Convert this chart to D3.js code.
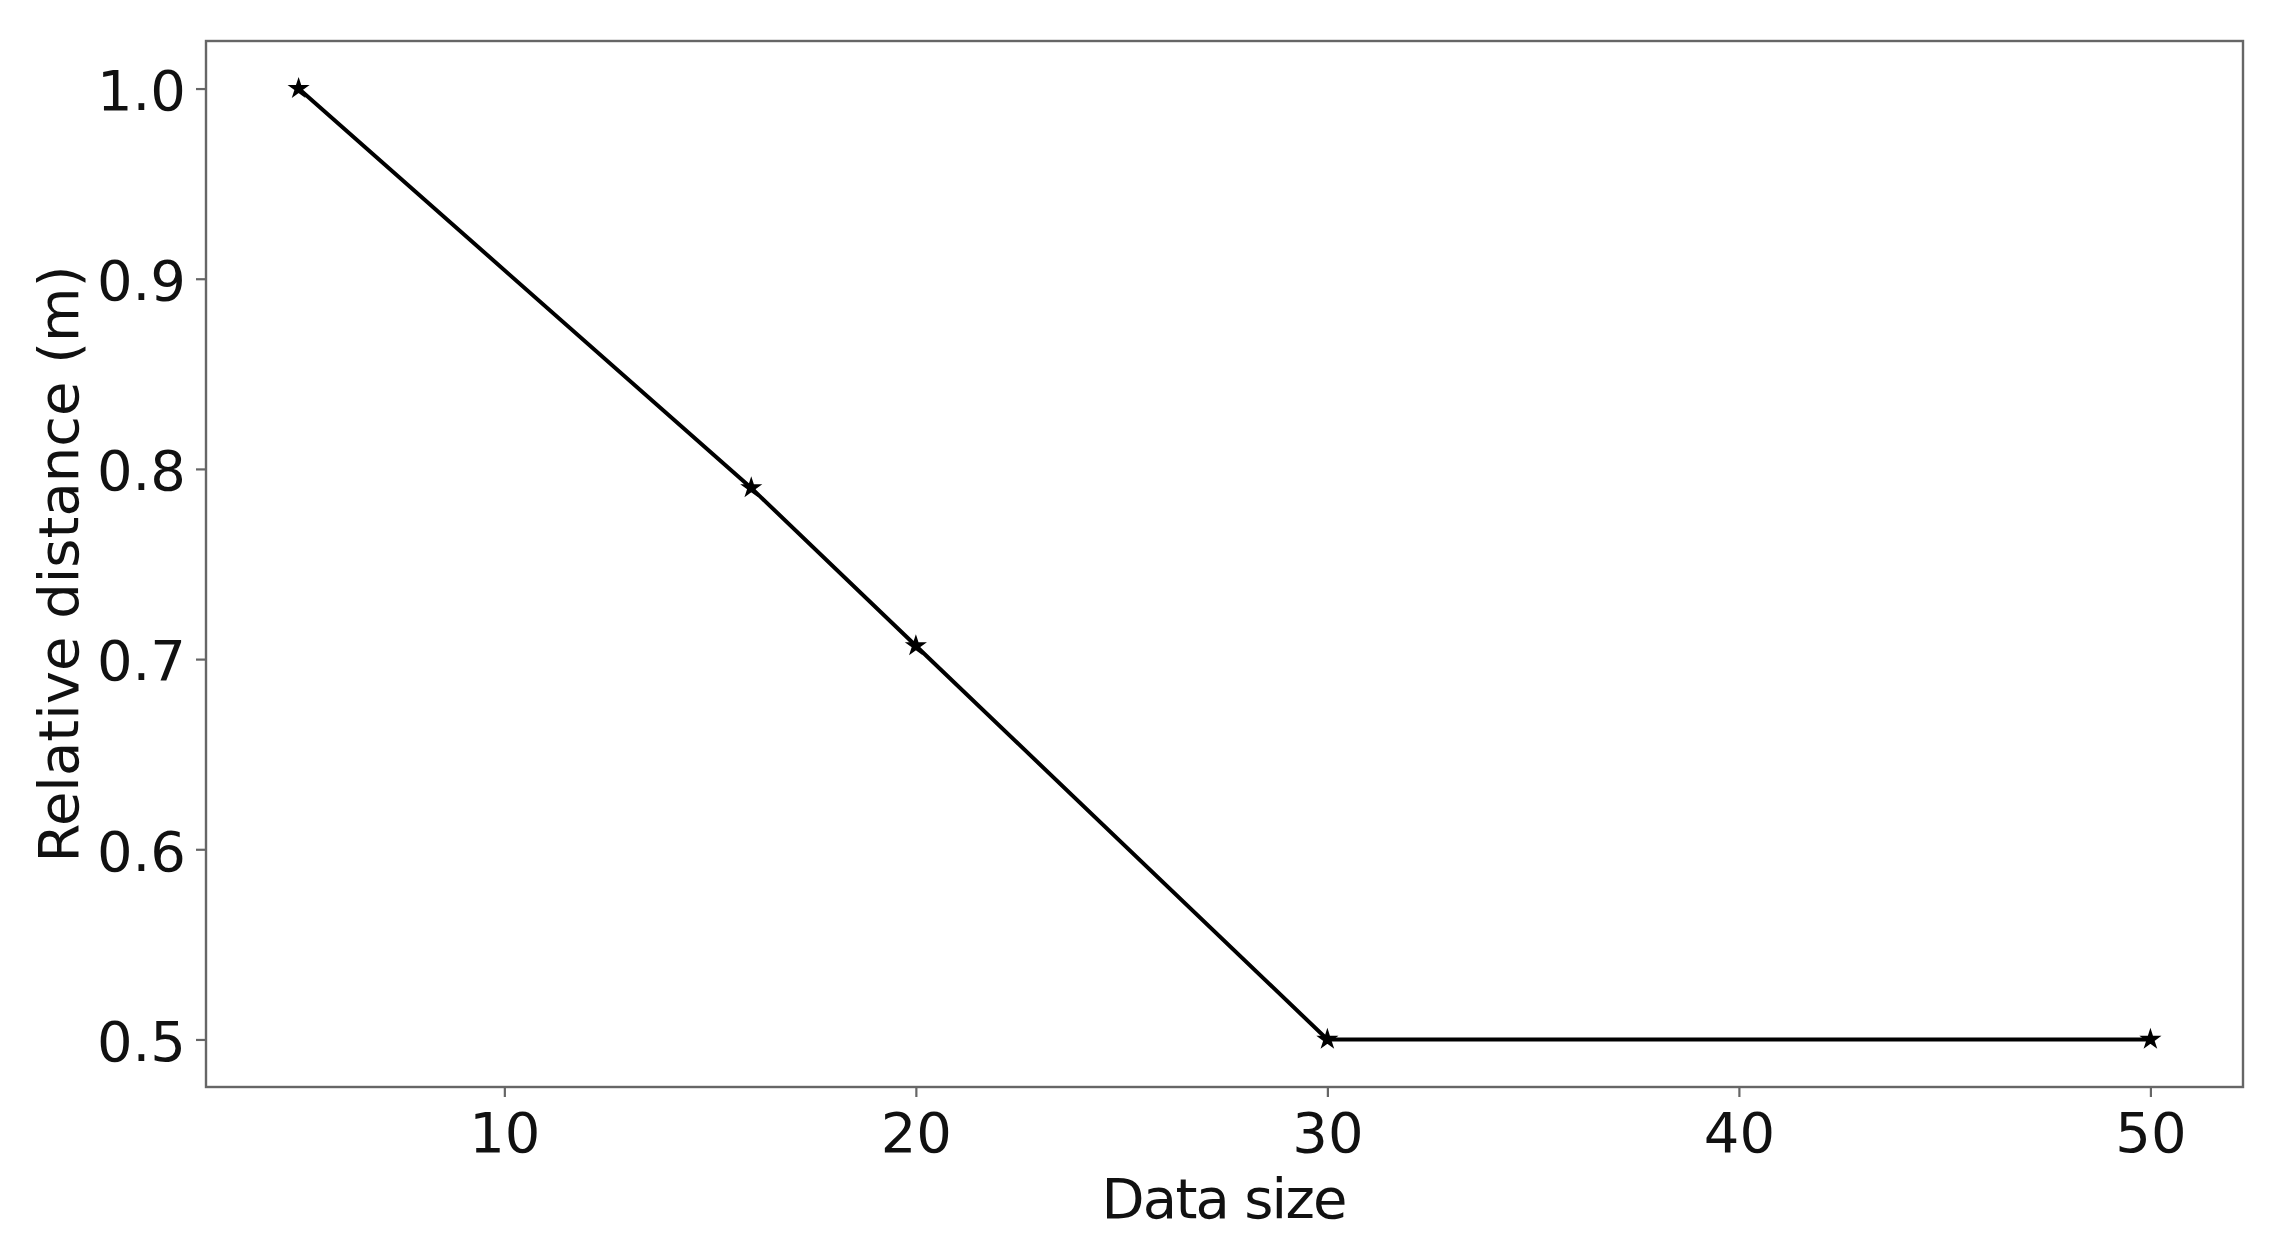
<!DOCTYPE html>
<html>
<head>
<meta charset="utf-8">
<script src="https://cdn.jsdelivr.net/npm/d3@7"></script>
<style>
  body { margin: 0; background: #fff; }
  text { font-family: "DejaVu Sans", sans-serif; fill: #111; }
</style>
</head>
<body>
<script>
// data
const dataSize = [5, 16, 20, 30, 50];
const relDistance = [1.0, 0.79, 0.707, 0.5, 0.5];
const xTicks = [10, 20, 30, 40, 50];
const yTicks = [0.5, 0.6, 0.7, 0.8, 0.9, 1.0];

const W = 2288, H = 1251;
const margin = {top: 41, right: 45, bottom: 164, left: 206};
const w = W - margin.left - margin.right;
const h = H - margin.top - margin.bottom;

const svg = d3.select("body").append("svg")
  .attr("width", W).attr("height", H);

svg.append("rect").attr("width", W).attr("height", H).attr("fill", "#fff");

const g = svg.append("g").attr("transform", `translate(${margin.left},${margin.top})`);

// 5% padding like matplotlib
const x = d3.scaleLinear().domain([2.75, 52.25]).range([0, w]);
const y = d3.scaleLinear().domain([0.475, 1.025]).range([h, 0]);

const xAxis = g.append("g")
  .attr("transform", `translate(0,${h})`)
  .call(d3.axisBottom(x).tickValues(xTicks).tickSize(10).tickPadding(10).tickFormat(d3.format("d")));

const yAxis = g.append("g")
  .call(d3.axisLeft(y).tickValues(yTicks).tickSize(10).tickPadding(10).tickFormat(d3.format(".1f")));

[xAxis, yAxis].forEach(a => {
  a.select(".domain").remove();
  a.selectAll(".tick line").attr("stroke", "#666").attr("stroke-width", 2.2);
  a.selectAll(".tick text").attr("font-size", 56).attr("font-family", "DejaVu Sans").attr("fill", "#111");
});
xAxis.selectAll(".tick text").attr("dy", "0.81em");
yAxis.selectAll(".tick text").attr("dy", "0.37em");

// frame
g.append("rect")
  .attr("width", w).attr("height", h)
  .attr("fill", "none").attr("stroke", "#666").attr("stroke-width", 2.4);

const pts = dataSize.map((d, i) => [d, relDistance[i]]);

g.append("path")
  .datum(pts)
  .attr("fill", "none")
  .attr("stroke", "#000")
  .attr("stroke-width", 4)
  .attr("d", d3.line().x(d => x(d[0])).y(d => y(d[1])));

g.selectAll(".mark")
  .data(pts)
  .enter()
    .append("path")
    .attr("class", "mark")
    .attr("transform", d => `translate(${x(d[0])},${y(d[1])})`)
    .attr("d", d3.symbol().type(d3.symbolStar).size(95))
    .attr("fill", "#000")
    .attr("stroke", "#000")
    .attr("stroke-width", 1.5);

// axis labels
svg.append("text")
  .attr("x", margin.left + w / 2)
  .attr("y", 1218)
  .attr("text-anchor", "middle")
  .attr("font-size", 56)
  .attr("textLength", 246)
  .text("Data size");

svg.append("text")
  .attr("transform", `translate(78,${margin.top + h / 2}) rotate(-90)`)
  .attr("text-anchor", "middle")
  .attr("font-size", 56)
  .text("Relative distance (m)");
</script>
</body>
</html>
